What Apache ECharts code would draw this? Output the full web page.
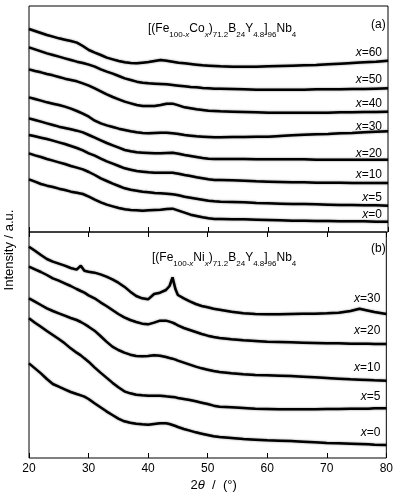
<!DOCTYPE html>
<html>
<head>
<meta charset="utf-8">
<script src="https://cdn.jsdelivr.net/npm/echarts@6/dist/echarts.min.js"></script>
<style>
html,body{margin:0;padding:0;background:#fff;}
#chart{width:396px;height:496px;}
</style>
</head>
<body>
<div id="chart"></div>
<script>
// 2theta sampling positions (degrees)
var thetaA = [20,21,22,23,24,25,26,27,28,29,30,31,32,33,34,35,36,37,38,39,40,41,42,43,44,45,46,47,48,49,50,51,52,54,56,58,60,62,64,66,68,70,72,74,76,78,80];
var thetaB = [20,21,22,23,24,25,26,27,28,28.7,29.3,30,31,32,33,34,35,36,37,38,39,40,41,42,43,43.6,44.1,44.6,45,46,47,48,49,50,51,52,54,56,58,60,62,64,66,68,70,72,74,75.5,77,78,80];

// (a) [(Fe100-xCox)71.2B24Y4.8]96Nb4 — stacked intensities (a.u.)
var labelsA = ['60','50','40','30','20','10','5','0'];
var coX60 = [609,603,597,591,586,581,577,573,568,558,546,538,531,523,518,513,509,507,506,508,510,513,516,514,511,508,506,504,502,500,499,498,497,496,496,496,497,498,499,500,501,503,505,507,509,511,514];
var coX50 = [554,548,542,536,531,526,521,516,511,507,502,496,488,481,475,468,461,456,451,448,446,445,444,443,441,439,437,435,434,432,431,430,430,429,428,427,427,427,427,427,428,428,428,429,429,430,431];
var coX40 = [488,483,479,474,470,465,460,456,452,446,439,431,422,413,405,398,391,386,381,378,378,378,381,385,385,380,374,371,368,366,364,363,362,361,360,359,358,358,358,358,358,358,359,359,360,360,361];
var coX30 = [404,399,394,389,385,381,376,370,363,355,346,334,326,320,315,310,306,302,299,297,296,297,298,298,296,294,291,289,287,286,285,284,284,285,285,286,286,288,290,292,293,294,296,297,299,301,302];
var coX20 = [341,336,331,326,321,316,312,308,304,299,291,283,275,267,260,253,246,242,239,238,237,236,236,237,238,235,231,228,225,222,220,219,219,219,219,218,218,218,218,218,217,217,217,217,217,217,217];
var coX10 = [291,287,283,279,274,269,264,258,252,245,236,229,220,212,205,198,191,187,183,181,179,178,178,178,178,175,171,168,164,161,158,156,156,155,154,152,151,150,149,149,148,148,148,147,147,147,147];
var coX5  = [236,230,225,219,214,209,204,198,193,188,180,171,161,153,145,138,131,127,124,121,119,117,116,115,113,110,106,103,100,97,94,92,91,90,89,87,86,85,84,84,83,82,81,81,80,80,79];
var coX0  = [158,151,144,139,135,130,126,121,118,114,106,97,89,82,77,72,68,66,65,64,65,66,67,69,70,64,58,52,48,44,41,39,39,38,38,37,36,35,34,34,33,33,32,32,32,31,31];

// (b) [(Fe100-xNix)71.2B24Y4.8]96Nb4
var labelsB = ['30','20','10','5','0'];
var niX30 = [634,622,609,597,589,583,577,570,565,577,562,559,556,551,544,536,526,514,499,486,479,476,492,496,504,516,542,506,489,479,470,462,456,452,448,445,439,434,432,431,431,432,433,433,434,436,441,448,442,438,432];
var niX20 = [574,566,558,549,539,532,524,516,507,501,496,488,479,467,456,444,432,422,414,408,403,401,406,412,412,409,406,402,398,390,384,378,372,367,363,360,356,353,351,349,348,347,346,345,344,344,343,343,343,342,342];
var niX10 = [479,469,459,449,441,434,427,420,414,408,402,394,382,366,349,334,324,316,310,306,305,306,308,307,303,300,298,295,292,286,280,274,269,265,261,258,254,251,249,248,247,246,244,242,240,238,236,235,234,233,232];
var niX5  = [419,406,394,381,369,357,344,329,316,308,299,289,272,256,241,226,212,200,194,190,188,187,187,187,185,184,183,182,180,177,174,170,166,162,157,154,152,150,148,147,146,146,146,146,147,147,148,148,148,149,149];
var niX0  = [284,269,254,237,222,214,206,198,192,188,184,177,164,152,140,129,118,110,106,103,101,100,102,104,104,102,99,96,93,87,82,77,73,69,65,63,60,57,55,53,52,51,49,47,45,44,43,42,41,40,39];

var xTicks = [20,30,40,50,60,70,80];

var FONT = 'Liberation Sans, Arial, sans-serif';
var seriesA = [coX60, coX50, coX40, coX30, coX20, coX10, coX5, coX0];
var seriesB = [niX30, niX20, niX10, niX5, niX0];
var offA = [-2,-3,-2,1,0,-2,-2,-1];
var offB = [-9,-7,-7,-6,-6];

function zip(xs, ys){ return xs.map(function(x,i){ return [x, ys[i]]; }); }
function mk(data, label, gi, dy){
  return {
    type:'line', xAxisIndex: gi===0?0:1, yAxisIndex: gi, data: data,
    symbol:'none', silent:true, animation:false,
    lineStyle:{color:'#000', width:2.5, shadowColor:'rgba(0,0,0,0.5)', shadowBlur:2},
    endLabel:{show:true, formatter:'{i|x}=' + label, distance:0, offset:[-6, dy],
      align:'right', verticalAlign:'bottom', color:'#000', fontSize:12, fontFamily:FONT,
      rich:{i:{fontStyle:'italic', fontSize:12, fontFamily:FONT, color:'#000'}}}
  };
}
var series = [];
seriesA.forEach(function(s,i){ series.push(mk(zip(thetaA,s), labelsA[i], 0, offA[i])); });
seriesB.forEach(function(s,i){ series.push(mk(zip(thetaB,s), labelsB[i], 1, offB[i])); });

var sub = {fontSize:8, fontWeight:'normal', fontFamily:FONT, color:'#000', verticalAlign:'top', lineHeight:8, padding:[8,0,0,0]};
var subi = {fontSize:8, fontWeight:'normal', fontFamily:FONT, color:'#000', fontStyle:'italic', verticalAlign:'top', lineHeight:8, padding:[8,0,0,0]};
var base = {fontSize:12, fontWeight:'normal', fontFamily:FONT, color:'#000', verticalAlign:'top', lineHeight:14};
function formula(el){
  return '{b|[(Fe}{s|100-}{si|x}{b|' + el + '}{si|x}{b|)}{s|71.2}{b|B}{s|24}{b|Y}{s|4.8}{b|]}{s|96}{b|Nb}{s|4}';
}
var titleStyle = {fontWeight:'normal', fontSize:12, fontFamily:FONT, color:'#000', rich:{b:base, s:sub, si:subi}};

var axisCommon = {type:'value', min:20, max:80, interval:10,
  axisLine:{show:false}, splitLine:{show:false},
  axisTick:{show:true, inside:true, length:5, lineStyle:{color:'#000', width:1}}};

var option = {
  backgroundColor:'#fff',
  animation:false,
  title:[
    {text:formula('Co'), left:143, top:18, textStyle:titleStyle},
    {text:formula('Ni'), left:147, top:247, textStyle:titleStyle},
    {text:'(a)', left:366, top:14, textStyle:{fontSize:12, fontWeight:'normal', fontFamily:FONT, color:'#000'}},
    {text:'(b)', left:366, top:238, textStyle:{fontSize:12, fontWeight:'normal', fontFamily:FONT, color:'#000'}}
  ],
  grid:[
    {left:29, right:8, top:6, height:226, show:true, borderColor:'#000', borderWidth:1},
    {left:29, right:8, top:232, height:226, show:true, borderColor:'#000', borderWidth:1}
  ],
  xAxis:[
    Object.assign({}, axisCommon, {gridIndex:0, position:'bottom', axisLabel:{show:false}}),
    Object.assign({}, axisCommon, {gridIndex:1, position:'bottom',
      axisLabel:{show:true, margin:5, fontSize:12, fontFamily:FONT, color:'#000'},
      name:'2{i|θ}  /  (°)', nameLocation:'middle', nameGap:21,
      nameTextStyle:{fontSize:13, fontFamily:FONT, color:'#000', padding:[0,0,0,12],
        rich:{i:{fontStyle:'italic', fontSize:13, fontFamily:FONT, color:'#000'}}}}),
    Object.assign({}, axisCommon, {gridIndex:1, position:'top', axisLabel:{show:false}})
  ],
  yAxis:[
    {type:'value', gridIndex:0, min:0, max:678, show:false},
    {type:'value', gridIndex:1, min:0, max:678, show:false}
  ],
  graphic:[
    {type:'text', x:3, y:250, rotation:Math.PI/2,
      style:{text:'Intensity / a.u.', fontSize:13, fontFamily:FONT, fill:'#000',
        textAlign:'center', textVerticalAlign:'top'}}
  ],
  series: series
};
var chart = echarts.init(document.getElementById('chart'), null, {renderer:'canvas'});
chart.setOption(option);
</script>
</body>
</html>
